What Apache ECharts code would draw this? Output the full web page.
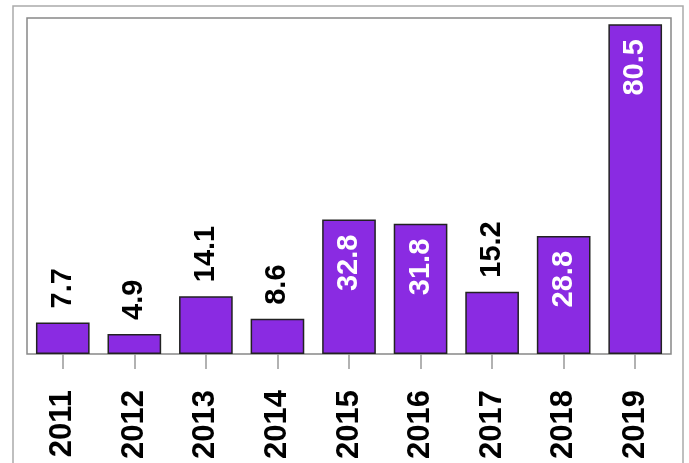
<!DOCTYPE html>
<html><head><meta charset="utf-8">
<script src="https://cdn.jsdelivr.net/npm/echarts@6/dist/echarts.min.js"></script>
<style>html,body{margin:0;padding:0;background:#fff}#c{width:689px;height:463px}</style>
</head><body><div id="c"></div>
<script>
var years = ['2011','2012','2013','2014','2015','2016','2017','2018','2019'];
var values = [7.7, 4.9, 14.1, 8.6, 32.8, 31.8, 15.2, 28.8, 80.5];
var FONT = '"Liberation Sans Narrow", "Liberation Sans", Arial, sans-serif';
var chart = echarts.init(document.getElementById('c'), null, {renderer:'canvas'});
var data = values.map(function(v){
  var inside = v > 20;
  return {value: v, label: inside ? {
      position:'insideTop', distance: 15, align:'right', verticalAlign:'middle', color:'#fff'
    } : {
      position:'top', distance: 14, align:'left', verticalAlign:'middle', color:'#000'
    }};
});
chart.setOption({
  animation:false,
  graphic:[{type:'rect', shape:{x:13,y:6,width:670,height:470}, style:{fill:'none', stroke:'#aaa', lineWidth:1.5}, z:-1}],
  grid:{left:27, right:18, top:18, bottom:109, containLabel:false, outerBoundsMode:'none',
    show:true, borderColor:'#888', borderWidth:1.5, backgroundColor:'transparent'},
  xAxis:{type:'category', data:years, boundaryGap:true,
    axisLine:{show:false},
    axisTick:{show:true, alignWithLabel:true, length:15, lineStyle:{color:'#999', width:1.5}},
    axisLabel:{rotate:90, margin:36, fontFamily:FONT, fontWeight:'bold', fontSize:31, color:'#000'}
  },
  yAxis:{type:'value', min:0, max:82, show:false, splitLine:{show:false}},
  series:[{type:'bar', data:data, barWidth:'75%',
    itemStyle:{color:'#8a2be2', borderColor:'#222', borderWidth:1.5},
    label:{show:true, rotate:90, fontFamily:FONT, fontWeight:'bold', fontSize:29}
  }]
});
</script></body></html>
